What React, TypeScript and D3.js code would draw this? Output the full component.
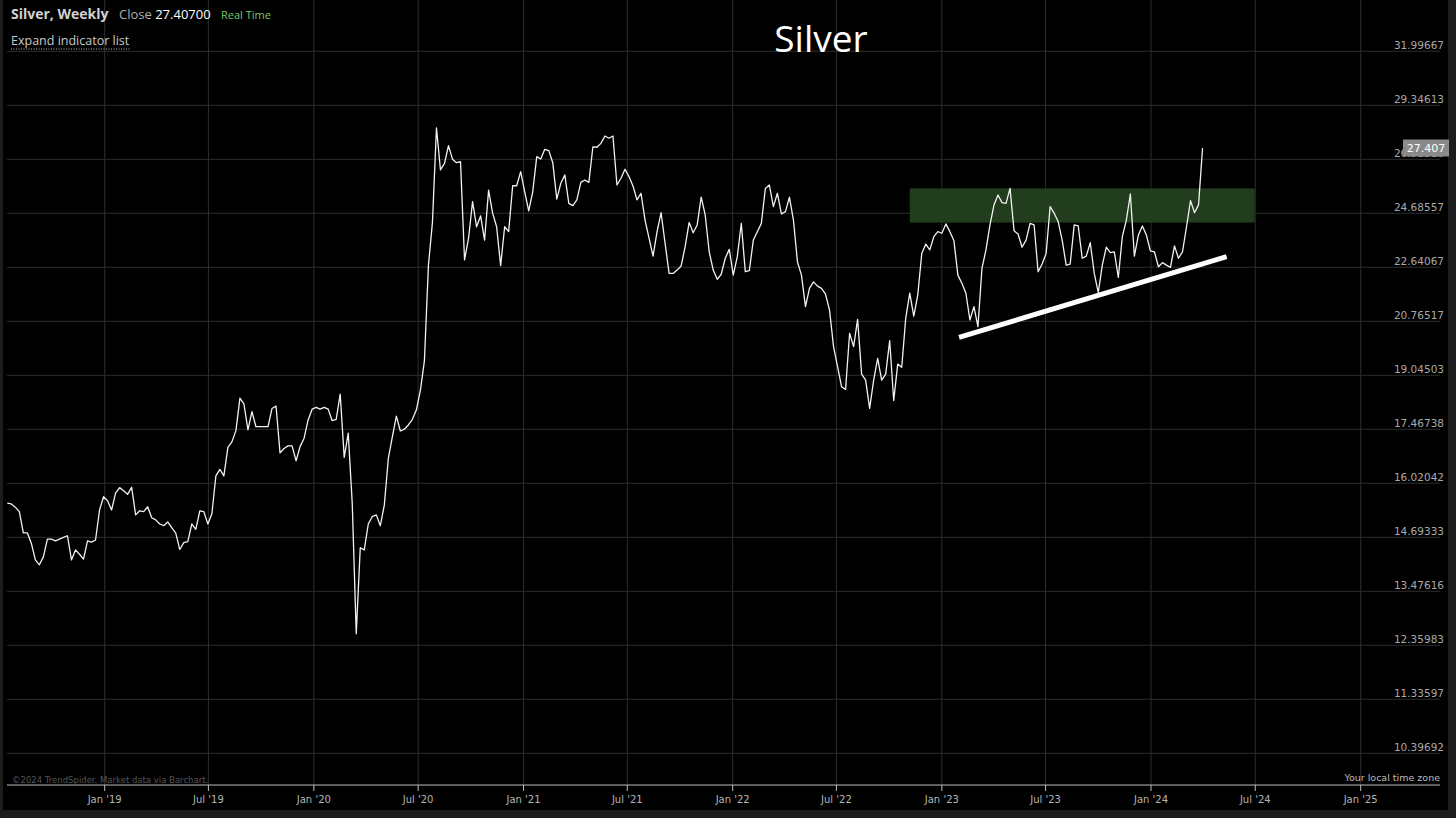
import React from 'react';
import * as d3 from 'd3';

// Weekly closes of Silver, starting the week of Jul 15 2018
const START = new Date(2018, 6, 15);
const closes: number[] = [
  15.52, 15.50, 15.42, 15.31, 14.80, 14.80, 14.55, 14.17, 14.06, 14.24,
  14.65, 14.65, 14.61, 14.65, 14.69, 14.73, 14.17, 14.40, 14.30, 14.19,
  14.61, 14.58, 14.63, 15.35, 15.68, 15.58, 15.35, 15.77, 15.91, 15.83,
  15.74, 15.92, 15.23, 15.33, 15.31, 15.43, 15.16, 15.11, 15.01, 14.97,
  15.06, 14.92, 14.79, 14.41, 14.57, 14.59, 15.01, 14.88, 15.33, 15.31,
  15.01, 15.25, 16.21, 16.38, 16.21, 16.97, 17.12, 17.43, 18.36, 18.19,
  17.45, 17.97, 17.54, 17.54, 17.54, 17.54, 18.06, 18.13, 16.82, 16.94,
  17.01, 17.01, 16.61, 16.99, 17.22, 17.73, 18.04, 18.09, 18.04, 18.09,
  18.04, 17.71, 17.75, 18.48, 16.70, 17.36, 15.52, 12.59, 14.45, 14.40,
  15.01, 15.19, 15.23, 14.97, 15.47, 16.67, 17.26, 17.84, 17.42, 17.47,
  17.59, 17.75, 18.02, 18.60, 19.50, 22.72, 24.34, 28.30, 26.46, 26.74,
  27.51, 26.92, 26.77, 26.81, 22.91, 23.72, 25.15, 24.16, 24.58, 23.65,
  25.62, 24.69, 24.16, 22.70, 24.16, 23.97, 25.80, 25.80, 26.39, 25.55,
  24.78, 25.55, 27.03, 26.93, 27.35, 27.29, 26.77, 25.25, 25.90, 26.25,
  25.08, 24.99, 25.22, 25.94, 26.04, 25.94, 27.46, 27.44, 27.61, 27.94,
  27.84, 27.94, 25.83, 26.11, 26.49, 26.18, 25.79, 25.22, 25.49, 24.42,
  23.72, 23.05, 23.97, 24.71, 23.53, 22.42, 22.42, 22.54, 22.69, 23.40,
  24.33, 23.93, 24.23, 25.33, 24.62, 23.21, 22.54, 22.21, 22.39, 22.97,
  23.30, 22.36, 23.03, 24.29, 22.48, 22.52, 23.65, 23.97, 24.29, 25.69,
  25.83, 24.95, 25.49, 24.66, 24.75, 25.33, 24.42, 22.84, 22.36, 21.26,
  21.89, 22.12, 21.97, 21.89, 21.69, 21.14, 19.94, 19.31, 18.70, 18.62,
  20.37, 19.94, 20.83, 19.08, 18.90, 18.06, 18.90, 19.57, 18.90, 19.08,
  20.13, 18.29, 19.39, 19.29, 20.87, 21.72, 20.94, 21.66, 23.15, 23.50,
  23.28, 23.78, 23.97, 23.91, 24.27, 23.97, 23.63, 22.36, 22.07, 21.72,
  20.81, 21.26, 20.59, 22.60, 23.28, 24.23, 25.02, 25.42, 25.11, 25.08,
  25.69, 24.01, 23.88, 23.38, 23.65, 24.29, 24.23, 22.48, 22.76, 23.15,
  24.95, 24.69, 24.36, 23.65, 22.72, 22.76, 24.23, 24.19, 22.97, 23.05,
  23.55, 22.42, 21.74, 22.72, 23.38, 23.18, 23.21, 22.28, 23.78, 24.42,
  25.46, 23.05, 23.84, 24.19, 23.84, 23.24, 23.21, 22.66, 22.81, 22.72,
  22.64, 23.43, 22.97, 23.21, 24.16, 25.19, 24.71, 25.02, 27.407,
];

const yTicks: number[] = [
  31.99667, 29.34613, 26.91518, 24.68557, 22.64067, 20.76517, 19.04503,
  17.46738, 16.02042, 14.69333, 13.47616, 12.35983, 11.33597, 10.39692,
];
const yTickLabels: string[] = [
  '31.99667', '29.34613', '26.91518', '24.68557', '22.64067', '20.76517', '19.04503',
  '17.46738', '16.02042', '14.69333', '13.47616', '12.35983', '11.33597', '10.39692',
];

const xTicks: Date[] = [
  new Date(2019, 0, 1), new Date(2019, 6, 1), new Date(2020, 0, 1), new Date(2020, 6, 1),
  new Date(2021, 0, 1), new Date(2021, 6, 1), new Date(2022, 0, 1), new Date(2022, 6, 1),
  new Date(2023, 0, 1), new Date(2023, 6, 1), new Date(2024, 0, 1), new Date(2024, 6, 1),
  new Date(2025, 0, 1),
];
const xTickLabels: string[] = [
  "Jan '19", "Jul '19", "Jan '20", "Jul '20", "Jan '21", "Jul '21", "Jan '22",
  "Jul '22", "Jan '23", "Jul '23", "Jan '24", "Jul '24", "Jan '25",
];

// Resistance zone (green box)
const zoneDates: Date[] = [new Date(2022, 10, 6), new Date(2024, 5, 30)];
const zonePrices: number[] = [24.32, 25.69];

// Rising support trend line
const trendDates: Date[] = [new Date(2023, 0, 31), new Date(2024, 4, 12)];
const trendPrices: number[] = [20.24, 23.03];

const lastClose = 27.407;

export default function App() {
  const W = 1456;
  const H = 818;
  const plotLeft = 7;
  const plotRight = 1440;
  const axisY = 785;

  const x = d3.scaleTime().domain([xTicks[0], xTicks[xTicks.length - 1]]).range([104.7, 1360.7]);
  const y = d3.scaleLog().domain([yTicks[yTicks.length - 1], yTicks[0]]).range([753.3, 51.3]);

  const series = closes.map((v, i) => ({ date: d3.timeWeek.offset(START, i), value: v }));
  const line = d3
    .line<{ date: Date; value: number }>()
    .x((d) => x(d.date))
    .y((d) => y(d.value));

  const trend = trendDates.map((d, i) => ({ date: d, value: trendPrices[i] }));

  const axisFont = 'DejaVu Sans, Roboto, sans-serif';
  const uiFont = '"Open Sans", "Noto Sans", sans-serif';

  const tagY = y(lastClose);

  return (
    <svg
      width={W}
      height={H}
      style={{ position: 'absolute', left: 0, top: 0, display: 'block' }}
    >
      <rect x={0} y={0} width={W} height={H} fill="#1c1c1c" />
      <rect x={3} y={0} width={1445} height={810} fill="#000" />

      {/* vertical grid */}
      {xTicks.map((t, i) => (
        <line key={'vg' + i} x1={x(t)} x2={x(t)} y1={0} y2={axisY} stroke="#2e2e2e" strokeWidth={1} />
      ))}
      {/* horizontal grid */}
      {yTicks.map((t, i) => (
        <line key={'hg' + i} x1={plotLeft} x2={plotRight} y1={y(t)} y2={y(t)} stroke="#2e2e2e" strokeWidth={1} />
      ))}

      {/* resistance zone */}
      <rect
        x={x(zoneDates[0])}
        y={y(zonePrices[1])}
        width={x(zoneDates[1]) - x(zoneDates[0])}
        height={y(zonePrices[0]) - y(zonePrices[1])}
        fill="#24401f"
        fillOpacity={0.95}
      />

      {/* y labels */}
      {yTicks.map((t, i) => (
        <text
          key={'yl' + i}
          x={1444}
          y={y(t) - 2.5}
          textAnchor="end"
          fontFamily={axisFont}
          fontSize={10.5}
          fill="#a9a9a9"
        >
          {yTickLabels[i]}
        </text>
      ))}

      {/* price line */}
      <path d={line(series) || ''} fill="none" stroke="#f2f2f2" strokeWidth={1.3} strokeLinejoin="round" />

      {/* trend line */}
      <path d={line(trend) || ''} fill="none" stroke="#ffffff" strokeWidth={5} strokeLinecap="butt" />

      {/* last price tag */}
      <rect x={1403} y={tagY - 8.5} width={46} height={17} fill="#8a8a8a" />
      <text x={1426} y={tagY + 4} textAnchor="middle" fontFamily={axisFont} fontSize={11} fill="#fff">
        {lastClose.toFixed(3)}
      </text>

      {/* x axis */}
      <line x1={plotLeft} x2={plotRight} y1={axisY} y2={axisY} stroke="#bdbdbd" strokeWidth={1} />
      {xTicks.map((t, i) => (
        <g key={'xt' + i}>
          <line x1={x(t)} x2={x(t)} y1={axisY} y2={axisY + 6} stroke="#bdbdbd" strokeWidth={1} />
          <text x={x(t)} y={803} textAnchor="middle" fontFamily={axisFont} fontSize={10} fill="#b5b5b5">
            {xTickLabels[i]}
          </text>
        </g>
      ))}

      <text x={12} y={783} fontFamily={axisFont} fontSize={8.5} fill="#555">
        ©2024 TrendSpider. Market data via Barchart.
      </text>
      <text x={1440} y={781} textAnchor="end" fontFamily={axisFont} fontSize={9.5} fill="#bdbdbd">
        Your local time zone
      </text>

      {/* header */}
      <text x={11} y={19} fontFamily={uiFont} fontSize={14} fontWeight={700} fill="#d2d2d2">
        Silver, Weekly
      </text>
      <text x={119} y={19} fontFamily={uiFont} fontSize={13} fill="#b0b0b0">
        Close <tspan fill="#ffffff">27.40700</tspan>
      </text>
      <text x={221} y={19} fontFamily={uiFont} fontSize={11} fill="#7cc36a">
        Real Time
      </text>
      <text x={11} y={45} fontFamily={uiFont} fontSize={12.5} fill="#c8c8c8">
        Expand indicator list
      </text>
      <line x1={11} x2={130} y1={49} y2={49} stroke="#bbbbbb" strokeWidth={1} strokeDasharray="1,1.5" />

      {/* title */}
      <text x={821} y={52} textAnchor="middle" fontFamily={uiFont} fontSize={37} fill="#ffffff">
        Silver
      </text>
    </svg>
  );
}
